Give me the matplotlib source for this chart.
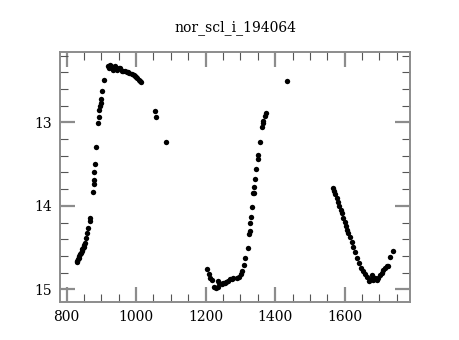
import matplotlib
matplotlib.use('Agg')
import matplotlib.pyplot as plt
from matplotlib.ticker import MultipleLocator

# light curve points
jd = [829, 831, 833, 835, 837, 839, 841, 843, 845, 847, 849, 851, 853,
      855, 858, 861, 866, 868, 876, 878, 879, 880, 882, 886,
      891, 892, 894, 896, 898, 900, 902, 909,
      920, 923, 925, 929, 930, 934, 939, 944, 951, 953, 958, 961, 968,
      974, 977, 980, 987, 994, 997, 1001, 1003, 1009, 1011, 1013,
      1054, 1058, 1085,
      1203, 1209, 1212, 1217, 1224, 1230, 1235, 1236, 1239, 1246, 1251,
      1256, 1260, 1265, 1270, 1275, 1280, 1289, 1297, 1302, 1306, 1311,
      1314, 1321, 1326, 1327, 1328, 1330, 1333, 1337, 1338, 1340, 1343,
      1346, 1350, 1351, 1356, 1362, 1364, 1366, 1371, 1374,
      1435,
      1566, 1569, 1573, 1577, 1581, 1585, 1589, 1592, 1596, 1600, 1604,
      1608, 1611, 1615, 1620, 1625, 1630, 1636, 1642, 1648, 1654, 1659,
      1665, 1669, 1675, 1678, 1682, 1687, 1692, 1697, 1702, 1707, 1711,
      1716, 1721, 1726, 1730, 1738]
mag = [14.67, 14.66, 14.64, 14.62, 14.60, 14.58, 14.56, 14.54, 14.52,
       14.51, 14.49, 14.47, 14.45,
       14.39, 14.33, 14.27, 14.18, 14.14, 13.83, 13.74, 13.69, 13.60, 13.50, 13.29,
       13.01, 12.94, 12.85, 12.81, 12.77, 12.72, 12.63, 12.49,
       12.33, 12.35, 12.31, 12.32, 12.35, 12.37, 12.33, 12.37, 12.35, 12.35,
       12.38, 12.38, 12.39, 12.40, 12.40, 12.41, 12.42, 12.43, 12.44, 12.46,
       12.47, 12.49, 12.51, 12.52,
       12.86, 12.94, 13.23,
       14.76, 14.82, 14.87, 14.89, 14.97, 14.98, 14.97, 14.90, 14.93, 14.94,
       14.93, 14.92, 14.91, 14.90, 14.88, 14.88, 14.87, 14.86, 14.85, 14.82,
       14.78, 14.71, 14.63, 14.51, 14.34, 14.30, 14.21, 14.13, 14.01, 13.85,
       13.85, 13.77, 13.68, 13.56, 13.44, 13.39, 13.23, 13.06, 13.01, 12.98,
       12.93, 12.89,
       12.51,
       13.79, 13.82, 13.86, 13.91, 13.95, 14.00, 14.05, 14.09, 14.14, 14.19,
       14.24, 14.29, 14.33, 14.37, 14.43, 14.49, 14.55, 14.63, 14.69, 14.74,
       14.78, 14.82, 14.85, 14.90, 14.88, 14.83, 14.89, 14.87, 14.89, 14.86,
       14.83, 14.80, 14.77, 14.74, 14.72, 14.72, 14.61, 14.54]

title = 'nor_scl_i_194064'

plt.rcParams['font.family'] = ['DejaVu Serif']

fig = plt.figure(figsize=(4.6, 3.4), dpi=100)
ax = fig.add_axes([0.1304, 0.113, 0.7609, 0.734])

ax.scatter(jd, mag, s=15, c='black', linewidths=0)

ax.set_xlim(781, 1788)
ax.set_ylim(15.147, 12.158)

ax.xaxis.set_major_locator(MultipleLocator(200))
ax.xaxis.set_minor_locator(MultipleLocator(50))
ax.yaxis.set_major_locator(MultipleLocator(1))
ax.yaxis.set_minor_locator(MultipleLocator(0.2))

gray = '#8c8c8c'
for sp in ax.spines.values():
    sp.set_color(gray)
    sp.set_linewidth(1.4)
ax.tick_params(which='both', direction='in', top=True, right=True,
               labelsize=10, labelcolor='black')
ax.tick_params(which='major', length=11, width=1.6, pad=6, color=gray)
ax.tick_params(which='minor', length=5.5, width=0.8, color='#555555')

ax.set_title(title, fontsize=10, pad=15)

fig.savefig('out.png', dpi=100)
